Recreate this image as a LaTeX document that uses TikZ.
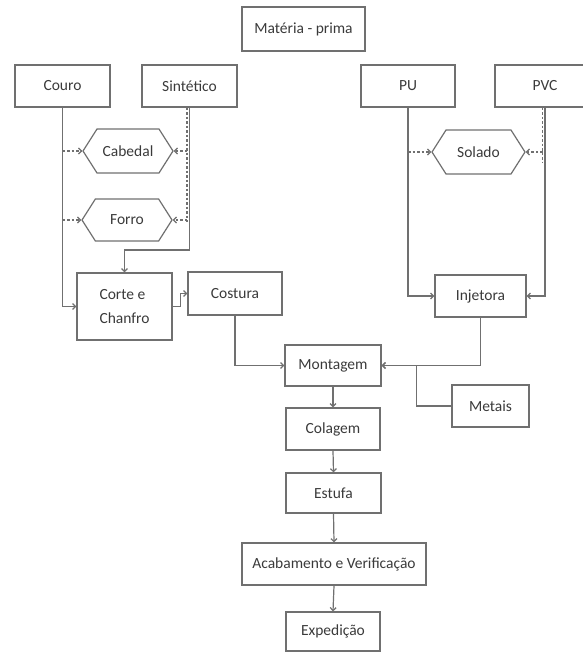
\documentclass[tikz,border=0pt]{standalone}
\usepackage{fontspec}
\setmainfont{Carlito}
\usetikzlibrary{arrows.meta,shapes.symbols,calc}
\definecolor{lg}{HTML}{707070}
\definecolor{tg}{HTML}{3A3A3A}
\begin{document}
\begin{tikzpicture}[x=1pt,y=-1pt,
 box/.style={draw=lg,line width=1.2pt,inner sep=0pt,text=tg,font=\fontsize{15.5}{24}\selectfont,minimum height=42pt,minimum width=95pt},
 hexa/.style={signal,signal to=west and east,signal pointer angle=115,draw=lg,line width=1.2pt,inner sep=0pt,text=tg,font=\fontsize{15.5}{24}\selectfont,minimum height=44pt,minimum width=90pt},
 con/.style={draw=lg,line width=1.2pt},
 arr/.style={con,-{Straight Barb[length=3pt,width=6pt]}},
 dsh/.style={arr,dash pattern=on 2.5pt off 2pt}
]
\useasboundingbox (0,0) rectangle (583,653);
\node[box,minimum width=123pt,minimum height=44pt] (mat) at (303.5,29) {Matéria - prima};
\node[box] (couro) at (62.5,86) {Couro};
\node[box] (sint) at (189.5,86) {Sintético};
\node[box,minimum width=94pt] (pu) at (408,86) {PU};
\node[box,minimum width=100pt] (pvc) at (545,86) {PVC};
\node[hexa] (cab) at (128,151) {Cabedal};
\node[hexa,minimum height=42pt] (forro) at (127,220) {Forro};
\node[hexa,minimum width=93pt] (sol) at (478.5,152) {Solado};
\node[box,minimum height=67pt,align=left] (corte) at (124.5,306.5) {Corte e\\Chanfro};
\node[box,minimum width=94pt,minimum height=43pt] (cost) at (235,293.5) {Costura};
\node[box,minimum width=91pt] (inj) at (480.5,296) {Injetora};
\node[box,minimum width=96pt,minimum height=41pt] (mont) at (333,365.5) {Montagem};
\node[box,minimum width=77pt] (met) at (490.5,406) {Metais};
\node[box,minimum width=94pt] (col) at (333,429) {Colagem};
\node[box,minimum height=40pt] (est) at (333.5,493) {Estufa};
\node[box,minimum width=184pt] (acab) at (334,564) {Acabamento e Verificação};
\node[box,minimum width=94pt,minimum height=39pt] (exp) at (333,631.5) {Expedição};

\coordinate (sd) at ($(sint.south)+(-2.5,0)$);
\coordinate (pd) at ($(pvc.south)+(-2.5,0)$);

\draw[arr] (couro.south) |- (corte.west);
\draw[dsh] (couro.south |- cab.west) -- (cab.west);
\draw[dsh] (couro.south |- forro.west) -- (forro.west);
\draw[arr] (sint.south) -- (sint.south |- 0,250) -| (corte.north);
\draw[con,dash pattern=on 2.5pt off 2pt] (sd) -- (sd |- 0,222);
\draw[dsh] (sd |- cab.east) -- (cab.east);
\draw[dsh] (sd |- forro.east) -- (forro.east);
\draw[arr] (corte.east) -- ++(8,0) |- (cost.west);
\draw[arr] (cost.south) |- (mont.west);
\draw[arr] (pu.south) |- (inj.west);
\draw[arr] (pvc.south) |- (inj.east);
\draw[con,dash pattern=on 2.5pt off 2pt] (pd) -- (pd |- 0,163);
\draw[dsh] (pd |- sol.east) -- (sol.east);
\draw[dsh] (pu.south |- sol.west) -- (sol.west);
\draw[arr] (inj.south) |- (mont.east);
\draw[arr] (met.west) -- ++(-35,0) |- (mont.east);
\draw[arr] (mont.south) -- (col.north);
\draw[arr] (col.south) -- (est.north);
\draw[arr] (est.south) -- (acab.north);
\draw[arr] (acab.south) -- (exp.north);
\end{tikzpicture}
\end{document}
